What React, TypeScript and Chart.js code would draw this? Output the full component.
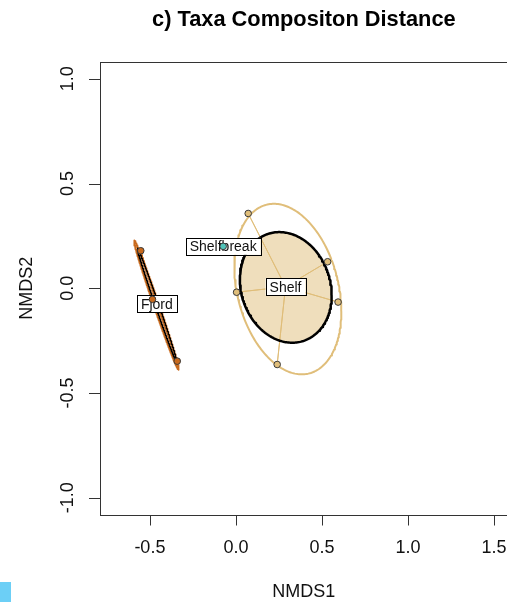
import React, { useEffect, useRef } from "react";
import { Chart, registerables } from "chart.js";

Chart.register(...registerables);

// ---- data (NMDS scores) ----
const groupNames = ["Fjord", "Shelfbreak", "Shelf"];
const fjordX = [-0.553, -0.485, -0.341];
const fjordY = [0.179, -0.053, -0.348];
const shelfbreakX = [-0.074];
const shelfbreakY = [0.2];
const shelfX = [0.0714, 0.533, 0.594, 0.004, 0.24];
const shelfY = [0.357, 0.1265, -0.066, -0.019, -0.364];

// ellipse parameters: centre x, centre y, x half-extent, y half-extent, correlation
const fjordSdEllipse = [-0.462, -0.08, 0.13, 0.309, -0.9924];
const fjordSeEllipse = [-0.457, -0.0835, 0.116, 0.275, -0.9955];
const shelfSdEllipse = [0.302, -0.004, 0.311, 0.407, -0.26];
const shelfSeEllipse = [0.29, 0.004, 0.267, 0.264, -0.14];

const xTicks = [-0.5, 0.0, 0.5, 1.0, 1.5];
const yTicks = [-1.0, -0.5, 0.0, 0.5, 1.0];
const xRange = [-0.79, 1.58];
const yRange = [-1.08, 1.08];

const titleText = "c) Taxa Compositon Distance";
const xTitle = "NMDS1";
const yTitle = "NMDS2";

// ---- styles ----
const FONT = '"Liberation Sans", Arial, Helvetica, sans-serif';
const fjordCol = "rgb(200,105,28)";
const shelfCol = "rgb(224,190,122)";
const shelfbreakCol = "rgb(80,196,186)";

type P = { x: number; y: number };

function zipPts(xs: number[], ys: number[]): P[] {
  return xs.map((x, i) => ({ x, y: ys[i] }));
}
function centroid(pts: P[]): P {
  const n = pts.length;
  return {
    x: pts.reduce((s, p) => s + p.x, 0) / n,
    y: pts.reduce((s, p) => s + p.y, 0) / n,
  };
}
function ellipse(p: number[], n = 240): P[] {
  const [cx, cy, sx, sy, r] = p;
  const q = Math.sqrt(1 - r * r);
  const out: P[] = [];
  for (let i = 0; i <= n; i++) {
    const t = (2 * Math.PI * i) / n;
    out.push({ x: cx + sx * Math.cos(t), y: cy + sy * (r * Math.cos(t) + q * Math.sin(t)) });
  }
  return out;
}
function spider(pts: P[]): P[] {
  const c = centroid(pts);
  const out: P[] = [c];
  pts.forEach((p) => {
    out.push(p);
    out.push(c);
  });
  return out;
}
function fmt(v: number) {
  return v.toFixed(1);
}

export default function App() {
  const ref = useRef<HTMLCanvasElement>(null);

  useEffect(() => {
    if (!ref.current) return;
    const fjord = zipPts(fjordX, fjordY);
    const shelfbreak = zipPts(shelfbreakX, shelfbreakY);
    const shelf = zipPts(shelfX, shelfY);
    const allPts = [...fjord, ...shelfbreak, ...shelf];
    const ptCols = [
      ...fjord.map(() => fjordCol),
      ...shelfbreak.map(() => shelfbreakCol),
      ...shelf.map(() => shelfCol),
    ];
    const labelPos: { name: string; p: P }[] = [
      { name: groupNames[0], p: centroid(fjord) },
      { name: groupNames[1], p: centroid(shelfbreak) },
      { name: groupNames[2], p: centroid(shelf) },
    ];

    const lineBase = {
      showLine: true,
      pointRadius: 0,
      pointHoverRadius: 0,
      tension: 0,
      fill: false,
      borderJoinStyle: "round",
    };

    const decor = {
      id: "decor",
      beforeDatasetDraw(chart: any, args: any) {
        if (chart.data.datasets[args.index].label !== "points") return;
        const ctx = chart.ctx;
        const xs = chart.scales.x;
        const ys = chart.scales.y;
        ctx.save();
        ctx.font = `14px ${FONT}`;
        ctx.textAlign = "center";
        ctx.textBaseline = "middle";
        labelPos.forEach(({ name, p }) => {
          const px = xs.getPixelForValue(p.x);
          const py = ys.getPixelForValue(p.y);
          const w = ctx.measureText(name).width + 8;
          const h = 17;
          ctx.fillStyle = "#fff";
          ctx.fillRect(px - w / 2, py - h / 2, w, h);
          ctx.strokeStyle = "#000";
          ctx.lineWidth = 1;
          ctx.strokeRect(Math.round(px - w / 2) + 0.5, Math.round(py - h / 2) + 0.5, Math.round(w), h);
          ctx.fillStyle = "#111";
          ctx.fillText(name, px, py + 1);
        });
        ctx.restore();
      },
      afterDraw(chart: any) {
        const ctx = chart.ctx;
        const a = chart.chartArea;
        const xs = chart.scales.x;
        const ys = chart.scales.y;
        ctx.save();
        // box
        ctx.strokeStyle = "#333";
        ctx.lineWidth = 1;
        ctx.strokeRect(Math.round(a.left) + 0.5, Math.round(a.top) + 0.5, Math.round(a.right - a.left), Math.round(a.bottom - a.top));
        // ticks
        ctx.beginPath();
        xTicks.forEach((v) => {
          const px = Math.round(xs.getPixelForValue(v)) + 0.5;
          ctx.moveTo(px, a.bottom + 1);
          ctx.lineTo(px, a.bottom + 11);
        });
        yTicks.forEach((v) => {
          const py = Math.round(ys.getPixelForValue(v)) + 0.5;
          ctx.moveTo(a.left, py);
          ctx.lineTo(a.left - 11, py);
        });
        ctx.stroke();
        // tick labels
        ctx.fillStyle = "#111";
        ctx.font = `18px ${FONT}`;
        ctx.textAlign = "center";
        ctx.textBaseline = "middle";
        xTicks.forEach((v) => {
          ctx.fillText(fmt(v), xs.getPixelForValue(v), a.bottom + 34);
        });
        yTicks.forEach((v) => {
          ctx.save();
          ctx.translate(a.left - 32, ys.getPixelForValue(v));
          ctx.rotate(-Math.PI / 2);
          ctx.fillText(fmt(v), 0, 0);
          ctx.restore();
        });
        // axis titles
        const cx = (a.left + a.right) / 2;
        ctx.fillText(xTitle, cx, 592);
        ctx.save();
        ctx.translate(27, (a.top + a.bottom) / 2);
        ctx.rotate(-Math.PI / 2);
        ctx.fillText(yTitle, 0, 0);
        ctx.restore();
        // title
        ctx.font = `bold 21.8px ${FONT}`;
        ctx.fillStyle = "#000";
        ctx.fillText(titleText, cx, 20);
        ctx.restore();
      },
    };

    const chart = new Chart(ref.current, {
      type: "scatter",
      data: {
        datasets: [
          {
            ...lineBase,
            label: "shelf-spider",
            data: spider(shelf),
            borderColor: shelfCol,
            borderWidth: 1,
            order: 10,
          },
          {
            ...lineBase,
            label: "fjord-spider",
            data: spider(fjord),
            borderColor: fjordCol,
            borderWidth: 1,
            order: 10,
          },
          {
            ...lineBase,
            label: "shelf-se",
            data: ellipse(shelfSeEllipse),
            borderColor: "#000",
            borderWidth: 2.5,
            fill: "shape",
            backgroundColor: "rgba(224,190,122,0.5)",
            order: 8,
          },
          {
            ...lineBase,
            label: "fjord-se",
            data: ellipse(fjordSeEllipse, 720),
            borderColor: "#000",
            borderWidth: 1.3,
            fill: "shape",
            backgroundColor: "rgba(200,105,28,0.6)",
            order: 8,
          },
          {
            ...lineBase,
            label: "shelf-sd",
            data: ellipse(shelfSdEllipse),
            borderColor: shelfCol,
            borderWidth: 2,
            order: 6,
          },
          {
            ...lineBase,
            label: "fjord-sd",
            data: ellipse(fjordSdEllipse, 720),
            borderColor: fjordCol,
            borderWidth: 1.8,
            order: 9,
          },
          {
            label: "points",
            data: allPts,
            showLine: false,
            pointRadius: 3.3,
            pointHoverRadius: 3.3,
            pointBackgroundColor: ptCols,
            pointBorderColor: "#3a3a3a",
            pointBorderWidth: 1,
            order: 0,
          } as any,
        ],
      },
      options: {
        responsive: false,
        animation: false,
        events: [],
        layout: { padding: { left: 100, top: 62, right: 4, bottom: 87.5 } },
        plugins: { legend: { display: false }, tooltip: { enabled: false } },
        scales: {
          x: { type: "linear", min: xRange[0], max: xRange[1], display: false },
          y: { type: "linear", min: yRange[0], max: yRange[1], display: false },
        },
      },
      plugins: [decor],
    } as any);
    return () => chart.destroy();
  }, []);

  return (
    <div
      style={{
        position: "fixed",
        left: 0,
        top: 0,
        width: 507,
        height: 602,
        overflow: "hidden",
        background: "#fff",
      }}
    >
      <canvas ref={ref} width={512} height={602} style={{ display: "block" }} />
      <div
        style={{
          position: "absolute",
          left: 0,
          top: 582,
          width: 11,
          height: 20,
          background: "rgb(108,207,246)",
        }}
      />
    </div>
  );
}
